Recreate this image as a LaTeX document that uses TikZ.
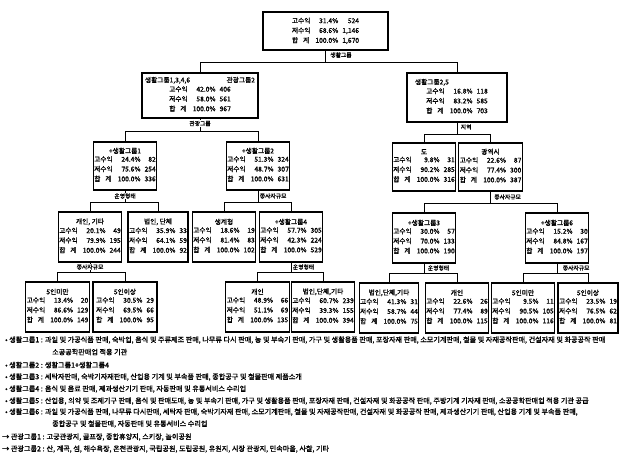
\documentclass[tikz,border=0pt]{standalone}
\usepackage{fontspec}
\setmainfont{Noto Sans CJK KR}[FakeBold=1.2]
\newcommand{\NT}[6]{\begin{tabular}{@{}l@{\hspace{5pt}}r@{\hspace{4pt}}r@{}}고수익 & #1\% & #2\\ 저수익 & #3\% & #4\\ 합\hspace{5pt}계 & #5\% & #6\end{tabular}}

\begin{document}
\begin{tikzpicture}
                        [
                            x=1pt, y=-1pt,
                            box/.style = {draw, shape=rectangle, line width=1.1pt, minimum width=60pt, minimum height=48pt, inner sep=1pt, align=center, font=\fontsize{6.7}{9.8}\selectfont},
                            split/.style = {font=\fontsize{5.8}{6}\selectfont, inner sep=0.6pt},
                            legend/.style = {anchor=west, inner sep=0pt, font=\fontsize{7.1}{8}\selectfont},
                            link/.style = {line width=0.9pt},
                        ]
                        \useasboundingbox (0,0) rectangle (625,454);

                        \node[box, minimum width=125pt, minimum height=38pt] (root) at (325.5,31) {\NT{31.4}{524}{68.6}{1,146}{100.0}{1,670}};

                        \node[box, minimum width=116pt, minimum height=45pt] (a) at (200,95.5) {\makebox[110pt]{생활그룹1,3,4,6\hfill 관광그룹2}\\\NT{42.0}{406}{58.0}{561}{100.0}{967}};
                        \node[box, minimum width=100pt, minimum height=49pt] (b) at (457,97.5) {\makebox[84pt][l]{생활그룹2,5}\\\NT{16.8}{118}{83.2}{585}{100.0}{703}};

                        \node[box, minimum width=62pt] (aa) at (125,166) {+생활그룹1\\\NT{24.4}{82}{75.6}{254}{100.0}{336}};
                        \node[box] (ab) at (258,166) {+생활그룹2\\\NT{51.3}{324}{48.7}{307}{100.0}{631}};
                        \node[box] (ba) at (424,167) {도\\\NT{9.8}{31}{90.2}{285}{100.0}{316}};
                        \node[box] (bb) at (490.5,167) {광역시\\\NT{22.6}{87}{77.4}{300}{100.0}{387}};

                        \node[box, minimum height=50pt] (aaa) at (90,237) {개인, 기타\\\NT{20.1}{49}{79.9}{195}{100.0}{244}};
                        \node[box, minimum height=50pt] (aab) at (158,237) {법인, 단체\\\NT{35.9}{33}{64.1}{59}{100.0}{92}};
                        \node[box, minimum height=50pt] (aba) at (224,237) {생계형\\\NT{18.6}{19}{81.4}{83}{100.0}{102}};
                        \node[box, minimum height=50pt] (abb) at (291,237) {+생활그룹4\\\NT{57.7}{305}{42.3}{224}{100.0}{529}};
                        \node[box, minimum height=50pt] (bba) at (424,238) {+생활그룹3\\\NT{30.0}{57}{70.0}{133}{100.0}{190}};
                        \node[box, minimum height=50pt] (bbb) at (557,238) {+생활그룹6\\\NT{15.2}{30}{84.8}{167}{100.0}{197}};

                        \node[box, minimum width=61pt, minimum height=50pt] (aaaa) at (57.5,307) {5인미만\\\NT{13.4}{20}{86.6}{129}{100.0}{149}};
                        \node[box, minimum width=64pt, minimum height=50pt] (aaab) at (125,307) {5인이상\\\NT{30.5}{29}{69.5}{66}{100.0}{95}};
                        \node[box, minimum width=61pt, minimum height=50pt] (abba) at (257.5,307) {개인\\\NT{48.9}{66}{51.1}{69}{100.0}{135}};
                        \node[box, minimum height=50pt] (abbb) at (323,307) {법인,단체,기타\\\NT{60.7}{239}{39.3}{155}{100.0}{394}};
                        \node[box, minimum width=58pt, minimum height=50pt] (bbaa) at (389,308) {법인,단체,기타\\\NT{41.3}{31}{58.7}{44}{100.0}{75}};
                        \node[box, minimum height=50pt] (bbab) at (457,308) {개인\\\NT{22.6}{26}{77.4}{89}{100.0}{115}};
                        \node[box, minimum height=50pt] (bbba) at (523,308) {5인미만\\\NT{9.5}{11}{90.5}{105}{100.0}{116}};
                        \node[box, minimum height=50pt] (bbbb) at (588,308) {5인이상\\\NT{23.5}{19}{76.5}{62}{100.0}{81}};

                        \draw [link] (root.south) -- ++(0,12) -| (a.north);
                        \draw [link] (root.south) -- ++(0,12) -| (b.north);
                        \draw [link] (a.south) -- ++(0,13) -| (aa.north);
                        \draw [link] (a.south) -- ++(0,13) -| (ab.north);
                        \draw [link] (b.south) -- ++(0,12) -| (ba.north);
                        \draw [link] (b.south) -- ++(0,12) -| (bb.north);
                        \draw [link] (aa.south) -- ++(0,12) -| (aaa.north);
                        \draw [link] (aa.south) -- ++(0,12) -| (aab.north);
                        \draw [link] (ab.south) -- ++(0,12) -| (aba.north);
                        \draw [link] (ab.south) -- ++(0,12) -| (abb.north);
                        \draw [link] (bb.south) -- ++(0,12) -| (bba.north);
                        \draw [link] (bb.south) -- ++(0,12) -| (bbb.north);
                        \draw [link] (aaa.south) -- ++(0,10) -| (aaaa.north);
                        \draw [link] (aaa.south) -- ++(0,10) -| (aaab.north);
                        \draw [link] (abb.south) -- ++(0,10) -| (abba.north);
                        \draw [link] (abb.south) -- ++(0,10) -| (abbb.north);
                        \draw [link] (bba.south) -- ++(0,10) -| (bbaa.north);
                        \draw [link] (bba.south) -- ++(0,10) -| (bbab.north);
                        \draw [link] (bbb.south) -- ++(0,10) -| (bbba.north);
                        \draw [link] (bbb.south) -- ++(0,10) -| (bbbb.north);

                        \node[split, anchor=north west] (s0) at ([xshift=4pt,yshift=-1pt]root.south) {생활그룹};
                        \node[split, anchor=north, fill=white] (s1) at ([yshift=-1.5pt]a.south) {관광그룹};
                        \node[split, anchor=north west] (s2) at ([xshift=3pt,yshift=-1pt]b.south) {지역};
                        \node[split, anchor=north, fill=white] (s3) at ([yshift=-2pt]aa.south) {운영형태};
                        \node[split, anchor=north west] (s4) at ([xshift=1pt,yshift=-2pt]ab.south) {종사자규모};
                        \node[split, anchor=north west] (s5) at ([xshift=3pt,yshift=-2pt]bb.south) {종사자규모};
                        \node[split, anchor=north, fill=white] (s6) at ([yshift=-1pt]aaa.south) {종사자규모};
                        \node[split, anchor=north west] (s7) at ([xshift=1pt,yshift=-1pt]abb.south) {운영형태};
                        \node[split, anchor=north west] (s8) at ([xshift=3pt,yshift=-1pt]bba.south) {운영형태};
                        \node[split, anchor=north west] (s9) at ([xshift=5pt,yshift=-1pt]bbb.south) {종사자규모};

                        \node[legend] (l1) at (5,340) {• 생활그룹1 : 과일 및 가공식품 판매, 숙박업, 음식 및 주류제조 판매, 나무류 다시 판매, 농 및 부속기 판매, 가구 및 생활용품 판매, 포장자재 판매, 소모기계판매, 철물 및 자재공작판매, 건설자재 및 화공공작 판매};
                        \node[legend] (l2) at (52,352) {소공공학판매업 적용 기관};
                        \node[legend] (l3) at (5,365) {• 생활그룹2 : 생활그룹1+생활그룹4};
                        \node[legend] (l4) at (5,377) {• 생활그룹3 : 세탁자판매, 숙박기자재판매, 산업용 기계 및 부속품 판매, 종합공구 및 철물판매 제품소개};
                        \node[legend] (l5) at (5,389) {• 생활그룹4 : 음식 및 음료 판매, 제과생산기기 판매, 자동판매 및 유통서비스 수리업};
                        \node[legend] (l6) at (5,401) {• 생활그룹5 : 산업용, 의약 및 조제기구 판매, 음식 및 판매도매, 농 및 부속기 판매, 가구 및 생활용품 판매, 포장자재 판매, 건설자재 및 화공공작 판매, 주방기계 기자재 판매, 소공공학판매업 적용 기관 공급};
                        \node[legend] (l7) at (5,412) {• 생활그룹6 : 과일 및 가공식품 판매, 나무류 다시판매, 세탁자 판매, 숙박기자재 판매, 소모기계판매, 철물 및 자재공작판매, 건설자재 및 화공공작 판매, 제과생산기기 판매, 산업용 기계 및 부속품 판매,};
                        \node[legend] (l8) at (52,424) {종합공구 및 철물판매, 자동판매 및 유통서비스 수리업};
                        \node[legend] (l9) at (2,437) {→ 관광그룹1 : 고궁관광지, 골프장, 종합휴양지, 스키장, 놀이공원};
                        \node[legend] (l10) at (2,449) {→ 관광그룹2 : 산, 계곡, 섬, 해수욕장, 온천관광지, 국립공원, 도립공원, 유원지, 시장 관광지, 민속마을, 사찰, 기타};

                    \end{tikzpicture}
\end{document}
